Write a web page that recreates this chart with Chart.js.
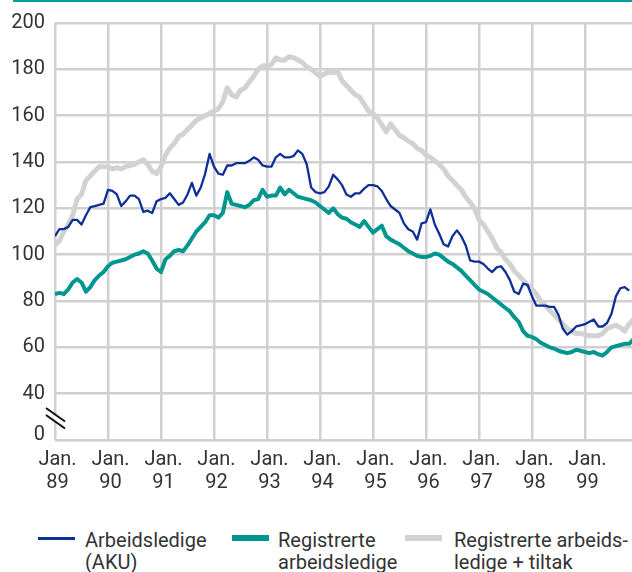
<!DOCTYPE html>
<html>
<head>
<meta charset="utf-8">
<script src="https://cdn.jsdelivr.net/npm/chart.js@4/dist/chart.umd.min.js"></script>
<style>
  html, body { margin: 0; padding: 0; background: #fff; }
  body { width: 632px; height: 572px; position: relative; overflow: hidden; font-family: Roboto, "Open Sans", sans-serif; color: #333; }
  #topRule { position: absolute; left: 13px; top: 0; width: 619px; height: 2px; background: #00a19a; }
  #wrap { position: absolute; left: 0; top: 0; width: 632px; height: 500px; }
  .legend { position: absolute; top: 529px; font-size: 20px; line-height: 22px; white-space: nowrap; }
  .swatch { position: absolute; width: 37px; }
</style>
</head>
<body>
<div id="topRule"></div>
<div id="wrap"><canvas id="unemploymentChart" width="632" height="500"></canvas></div>

<div class="swatch" style="left:38px; top:537px; height:3px; background:#0d2f96;"></div>
<div class="legend" style="left:85px;">Arbeidsledige<br>(AKU)</div>
<div class="swatch" style="left:232px; top:535px; height:6px; background:#00968f;"></div>
<div class="legend" style="left:278px;">Registrerte<br>arbeidsledige</div>
<div class="swatch" style="left:405px; top:535px; height:6px; background:#d2d2d2;"></div>
<div class="legend" style="left:454px;">Registrerte arbeids-<br>ledige + tiltak</div>

<script>
// monthly figures, Jan 1989 - Dec 1999 (thousand persons)
const startYear = 89;
const yTicks = [20, 22, 40, 60, 80, 100, 120, 140, 160, 180, 200];

const aku = [
  108, 111, 111, 112, 115, 115, 113, 117, 120.5, 121, 121.5, 122,
  128, 127.5, 126, 121, 123, 125.5, 125.5, 124, 118.5, 119, 118, 123,
  124, 124.5, 126.5, 124, 121.5, 122.5, 126, 131, 125.5, 129, 135, 143.5,
  138, 135, 134.5, 138.5, 138.5, 139.5, 139.5, 139.5, 140.5, 142, 141, 138.5,
  138, 138, 142, 143.5, 142, 142, 142.5, 145, 143.5, 139, 129, 127,
  126.5, 127, 129.5, 134.5, 132.5, 130, 126, 125, 126.5, 126.5, 128.5, 130,
  130, 129.5, 127.5, 124, 121, 119.5, 118, 113.5, 111, 110, 106.5, 113.5,
  114, 119.5, 113, 109, 104.5, 103.5, 108, 110.5, 108, 104, 97.5, 97,
  97, 96, 94, 92.5, 94.5, 95, 92.5, 89, 84, 83, 87.5, 87,
  82, 78, 78, 78, 77.5, 77.5, 74, 68, 65.5, 67, 69, 69.5,
  70, 71, 72, 69, 69, 70.5, 74.5, 82, 85.5, 86, 84.5, null
];

const registrerte = [
  83, 83.5, 83, 85, 88, 89.5, 88, 84, 86, 89, 91, 92.5,
  95, 96.5, 97, 97.5, 98, 99, 100, 100.5, 101.5, 100.5, 97.5, 94,
  92.5, 98, 99.5, 101.5, 102, 101.5, 104, 107, 110, 112, 114, 117,
  117, 116, 118, 127, 122, 121.5, 121, 120.5, 121.5, 123.5, 124, 128,
  125, 125.5, 125.5, 129, 126, 128, 126.5, 125, 124.5, 124, 123.5, 122.5,
  121, 119.5, 118, 120, 117.5, 116, 115.5, 114, 113, 112, 114.5, 112,
  109.5, 111, 112.5, 108, 106.5, 105.5, 104.5, 103, 101.5, 100.5, 99.5, 99,
  99, 99.5, 100.5, 100, 98.5, 97, 96, 94.5, 93, 91, 89, 87,
  85, 84, 83, 81.5, 80, 78.5, 77, 75.5, 73, 71, 67, 65,
  64.5, 63.5, 62, 61, 60, 59.5, 58.5, 58, 57.5, 58, 59, 58.5,
  58, 57.5, 58, 57, 56.5, 58, 60, 60.5, 61, 61.5, 61.5, 63.5
];

const regTiltak = [
  104, 106, 110, 113, 117, 124, 126, 132, 134, 136, 138, 138,
  138, 137, 137.5, 137, 138, 138.5, 139, 140, 141, 139, 136, 135,
  138, 143, 146, 148, 151, 152, 154, 156, 158, 159, 160, 161,
  162, 163, 166, 172, 169, 168, 171, 172, 174.5, 177, 180, 181.5,
  181.5, 182, 185, 184, 184, 185.5, 185, 184, 183, 181, 180, 178.5,
  177, 178, 179, 178.5, 179, 175, 173, 171, 169, 168, 165, 162,
  161, 159, 156, 153, 156.5, 154, 151.5, 150.5, 149, 148, 146, 145,
  143, 142, 140.5, 139, 137, 134, 132, 130, 128, 125, 122.5, 120,
  115, 113, 110, 107, 103, 101, 98, 96, 93, 91, 89, 87,
  85, 83, 80, 78, 76, 74, 72, 70, 68, 67, 66, 66,
  65.5, 65, 65, 65, 66, 68, 69, 69.5, 68.5, 67, 70, 72
];

const toPoints = arr => arr.map((v, i) => ({ x: i, y: v }));

const gridColor = '#d0d0d0';
const tickFont = { family: 'Roboto, "Open Sans", sans-serif', size: 20, lineHeight: 1.15 };

const axisBreak = {
  id: 'axisBreak',
  afterDraw(chart) {
    const c = chart.ctx;
    c.save();
    c.fillStyle = '#fff';
    c.beginPath();
    c.moveTo(46, 409); c.lineTo(65, 422); c.lineTo(65, 428); c.lineTo(46, 415);
    c.closePath();
    c.fill();
    c.strokeStyle = '#111';
    c.lineWidth = 2;
    c.beginPath();
    c.moveTo(46, 408); c.lineTo(65, 421.5);
    c.moveTo(46, 415); c.lineTo(65, 428.5);
    c.stroke();
    c.restore();
  }
};

new Chart(document.getElementById('unemploymentChart'), {
  type: 'line',
  data: {
    datasets: [
      { label: 'Arbeidsledige (AKU)', data: toPoints(aku), borderColor: '#0d2f96', borderWidth: 2.3 },
      { label: 'Registrerte arbeidsledige', data: toPoints(registrerte), borderColor: '#00968f', borderWidth: 4 },
      { label: 'Registrerte arbeidsledige + tiltak', data: toPoints(regTiltak), borderColor: '#d2d2d2', borderWidth: 5 }
    ]
  },
  options: {
    responsive: false,
    animation: false,
    layout: { padding: { top: 23, left: 0, right: 0, bottom: 0 } },
    elements: { point: { radius: 0 }, line: { tension: 0, borderJoinStyle: 'round' } },
    plugins: { legend: { display: false }, tooltip: { enabled: false } },
    scales: {
      x: {
        type: 'linear',
        min: 0,
        max: 130.65,
        afterBuildTicks: s => { s.ticks = [0, 12, 24, 36, 48, 60, 72, 84, 96, 108, 120].map(v => ({ value: v })); },
        afterFit: s => { s.height = 60; },
        border: { display: false },
        grid: { color: gridColor, lineWidth: 2.5, drawTicks: false },
        ticks: {
          maxRotation: 0,
          autoSkip: false,
          padding: 8,
          labelOffset: 2.5,
          color: '#333',
          font: tickFont,
          callback: v => ['Jan.', String(startYear + v / 12)]
        }
      },
      y: {
        min: 20,
        max: 200,
        afterBuildTicks: s => { s.ticks = yTicks.map(v => ({ value: v })); },
        afterFit: s => { s.width = 55; },
        border: { display: false },
        grid: {
          lineWidth: 2.5,
          drawTicks: false,
          color: ctx => (ctx.tick && ctx.tick.value === 22 ? 'rgba(0,0,0,0)' : gridColor)
        },
        ticks: {
          padding: 10,
          color: '#333',
          font: tickFont,
          callback: v => (v === 22 ? '0' : v === 20 ? '' : String(v))
        }
      }
    }
  },
  plugins: [axisBreak]
});
</script>
</body>
</html>
